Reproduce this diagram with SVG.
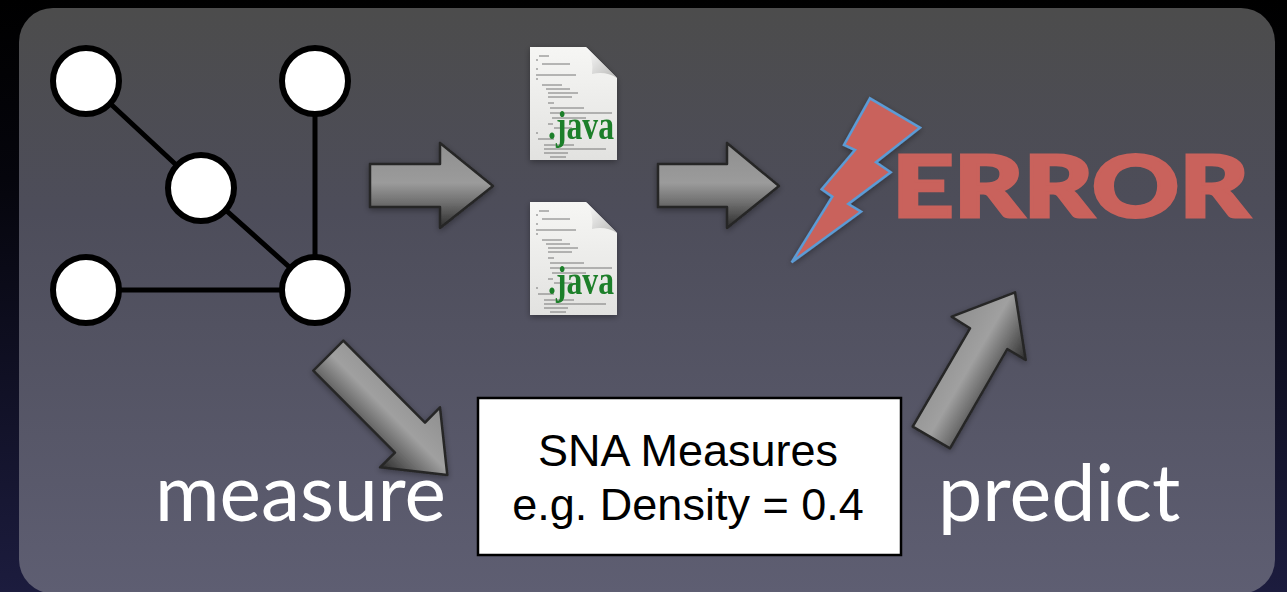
<svg xmlns="http://www.w3.org/2000/svg" width="1287" height="592" viewBox="0 0 1287 592">
<defs>
<linearGradient id="bg" x1="0" y1="0" x2="0" y2="1"><stop offset="0" stop-color="#000"/><stop offset="0.3" stop-color="#05050c"/><stop offset="1" stop-color="#1c1c3e"/></linearGradient>
<linearGradient id="panel" x1="0" y1="0" x2="0" y2="1"><stop offset="0" stop-color="#4c4c4c"/><stop offset="0.35" stop-color="#4d4d5a"/><stop offset="1" stop-color="#5e5e72"/></linearGradient>
<linearGradient id="a1" gradientUnits="userSpaceOnUse" x1="0" y1="143" x2="0" y2="228"><stop offset="0" stop-color="#8f8f8f"/><stop offset="0.47" stop-color="#9b9b9b"/><stop offset="0.7" stop-color="#6f6f6f"/><stop offset="1" stop-color="#2c2c2c"/></linearGradient>
<linearGradient id="a3" gradientUnits="userSpaceOnUse" x1="440" y1="407" x2="380" y2="467"><stop offset="0" stop-color="#8f8f8f"/><stop offset="0.47" stop-color="#a0a0a0"/><stop offset="0.7" stop-color="#6f6f6f"/><stop offset="1" stop-color="#2c2c2c"/></linearGradient>
<linearGradient id="a4" gradientUnits="userSpaceOnUse" x1="952" y1="317" x2="1026" y2="360"><stop offset="0" stop-color="#8f8f8f"/><stop offset="0.47" stop-color="#a0a0a0"/><stop offset="0.7" stop-color="#6f6f6f"/><stop offset="1" stop-color="#2c2c2c"/></linearGradient>
<linearGradient id="page" x1="0" y1="0" x2="0" y2="1"><stop offset="0" stop-color="#f6f6f4"/><stop offset="1" stop-color="#e2e2e0"/></linearGradient>
<linearGradient id="fold" x1="0" y1="0" x2="1" y2="1"><stop offset="0" stop-color="#ffffff"/><stop offset="1" stop-color="#b8b8b6"/></linearGradient>
<filter id="sh" x="-20%" y="-20%" width="140%" height="140%"><feGaussianBlur in="SourceAlpha" stdDeviation="3"/><feOffset dy="2"/><feComponentTransfer><feFuncA type="linear" slope="0.35"/></feComponentTransfer><feMerge><feMergeNode/><feMergeNode in="SourceGraphic"/></feMerge></filter>
<g id="doc">
<path d="M0 0H56L87 31V113H0Z" fill="url(#page)"/>
<path d="M56 0L87 31Q76 24 62 27Q64 12 56 0Z" fill="url(#fold)"/>
<path d="M9 9h10M6 13h2M12 17h28M6 22h2M6 28h40M6 32h2M12 38h20M16 42h24M18 46h30M18 50h24M18 56h6M20 61h34M20 66h62M22 71h34M18 77h5M24 81h18M6 86h2M8 92h16M14 98h30M14 102h62M14 106h24M20 110h16" stroke="#777" stroke-width="1" fill="none"/>
<text x="18" y="92" class="java" textLength="66" lengthAdjust="spacingAndGlyphs">.java</text>
</g>
</defs>
<style>
.arrow{stroke:#262626;stroke-width:2.5;stroke-linejoin:round;filter:url(#sh)}
.net{stroke:#000;stroke-width:5;fill:none}
.node{fill:#fff;stroke:#000;stroke-width:6}
.java{font-family:"Liberation Serif",serif;font-size:40px;font-weight:700;fill:#1f7f2a}
.lbl{font-family:"Lato","Open Sans",sans-serif;font-size:79px;fill:#fff}
.box{font-family:"Liberation Sans",Arial,sans-serif;font-size:45px;fill:#000;text-anchor:middle}
</style>
<rect width="1287" height="592" fill="url(#bg)"/>
<rect x="19" y="8" width="1256" height="585.500" rx="34" fill="url(#panel)"/>
<g id="connectors">
<path class="net" d="M86 81L201 188L315 290M315 81V290M86 290H315"/>
<path class="arrow" fill="url(#a1)" d="M370 164H440V143L493 186L440 228V207H370Z"/>
<path class="arrow" fill="url(#a1)" d="M658 164H727V143L779 186L727 228V207H658Z"/>
<path class="arrow" fill="url(#a3)" d="M343.300 340.700L313.300 370.700L395 452.700L380 467.300L447.300 475L440 407.300L425 422.700Z"/>
<path class="arrow" fill="url(#a4)" d="M912.700 426.700L950 448.300L1007.300 349L1025.700 360L1015 292.300L951.700 316.700L970 328.300Z"/>
</g>
<g id="node-1"><circle class="node" cx="86" cy="81" r="33"/></g>
<g id="node-2"><circle class="node" cx="315" cy="81" r="33"/></g>
<g id="node-3"><circle class="node" cx="201" cy="188" r="33"/></g>
<g id="node-4"><circle class="node" cx="86" cy="290" r="33"/></g>
<g id="node-5"><circle class="node" cx="315" cy="290" r="33"/></g>
<g id="file-1" filter="url(#sh)"><use href="#doc" x="530" y="47"/></g>
<g id="file-2" filter="url(#sh)"><use href="#doc" x="530" y="202"/></g>
<g id="error">
<text x="892" y="217" font-family="Lato,'Open Sans',sans-serif" font-weight="900" font-size="86" fill="#c9625c" stroke="#c9625c" stroke-width="3" textLength="357" lengthAdjust="spacingAndGlyphs">ERROR</text>
<path d="M870 98.300L920 127.700L876 162.300L890.700 172.300L848.300 204L861 211.700L791.700 262.300L832.300 196.700L821.700 189.300L855 150L844 145Z" fill="#c9625c" stroke="#5b9bd5" stroke-width="2.500" stroke-linejoin="miter" filter="url(#sh)"/>
</g>
<g id="measures">
<rect x="478" y="398" width="423" height="157" fill="#fff" stroke="#000" stroke-width="2.500"/>
<text class="box" x="688" y="466">SNA Measures</text>
<text class="box" x="688" y="520">e.g. Density = 0.4</text>
</g>
<text class="lbl" x="155" y="521" textLength="291" lengthAdjust="spacingAndGlyphs">measure</text>
<text class="lbl" x="938" y="521">predict</text>
</svg>
